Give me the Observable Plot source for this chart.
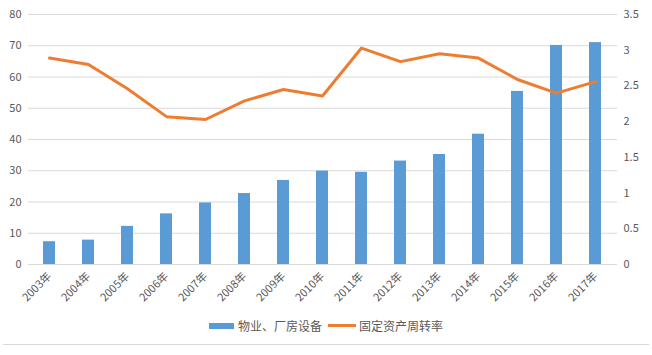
<!DOCTYPE html>
<html>
<head>
<meta charset="utf-8">
<script src="https://cdn.jsdelivr.net/npm/d3@7"></script>
<script src="https://cdn.jsdelivr.net/npm/@observablehq/plot@0.6"></script>
<style>
  html, body { margin: 0; padding: 0; background: #fff; }
  #wrap { width: 652px; height: 355px; position: relative; font-family: "Noto Sans CJK SC", "Noto Sans", sans-serif; }
  #legend { position: absolute; left: 0; width: 652px; top: 317px; display: flex; justify-content: center; align-items: center; font-size: 12px; color: #595959; }
  #legend .item { display: flex; align-items: center; }
  #legend .bar { width: 25px; height: 6px; background: #5B9BD5; margin-right: 4px; }
  #legend .ln { width: 28px; height: 3px; background: #ED7D31; margin: 0 3px 0 6px; }
  #rule { position: absolute; left: 3px; right: 3px; top: 344px; height: 1px; background: #d9d9d9; }
</style>
</head>
<body>
<div id="wrap">
  <div id="chart"></div>
  <div id="legend">
    <div class="item"><div class="bar"></div><span>物业、厂房设备</span></div>
    <div class="item"><div class="ln"></div><span>固定资产周转率</span></div>
  </div>
  <div id="rule"></div>
</div>
<script>
const years = ["2003年","2004年","2005年","2006年","2007年","2008年","2009年","2010年","2011年","2012年","2013年","2014年","2015年","2016年","2017年"];
const property = [7.3, 7.8, 12.2, 16.2, 19.7, 22.7, 26.9, 29.9, 29.5, 33.1, 35.2, 41.7, 55.4, 70.1, 71.0];
const turnover = [2.89, 2.80, 2.46, 2.07, 2.03, 2.29, 2.45, 2.36, 3.03, 2.84, 2.95, 2.89, 2.59, 2.40, 2.56];
const leftTicks = [0, 10, 20, 30, 40, 50, 60, 70, 80];
const rightTicks = [0, 0.5, 1, 1.5, 2, 2.5, 3, 3.5];

const k = 80 / 3.5;
const bars = years.map((y, i) => ({year: y, value: property[i]}));
const line = years.map((y, i) => ({year: y, rate: turnover[i]}));

const chart = Plot.plot({
  width: 652,
  height: 312,
  marginLeft: 28,
  marginRight: 35,
  marginTop: 14,
  marginBottom: 48,
  style: {fontFamily: '"Noto Sans CJK SC", "Noto Sans", sans-serif', fontSize: "11px", color: "#595959", background: "#fff"},
  x: {domain: years, paddingInner: 0.68, paddingOuter: 0.34},
  y: {domain: [0, 80]},
  marks: [
    Plot.gridY(leftTicks, {stroke: "#d9d9d9", strokeOpacity: 1, strokeWidth: 1}),
    Plot.axisY(leftTicks, {anchor: "left", tickSize: 0, tickPadding: 7, label: null}),
    Plot.axisY(rightTicks.map(t => t * k), {anchor: "right", tickSize: 0, tickPadding: 6, label: null,
      tickFormat: (d, i) => String(rightTicks[i])}),
    Plot.axisX({tickRotate: -45, tickSize: 0, tickPadding: 10, label: null}),
    Plot.barY(bars, {x: "year", y: "value", fill: "#5B9BD5"}),
    Plot.lineY(line, {x: "year", y: d => d.rate * k, stroke: "#ED7D31", strokeWidth: 3, strokeLinejoin: "round", strokeLinecap: "round"})
  ]
});
document.getElementById("chart").appendChild(chart);
</script>
</body>
</html>
